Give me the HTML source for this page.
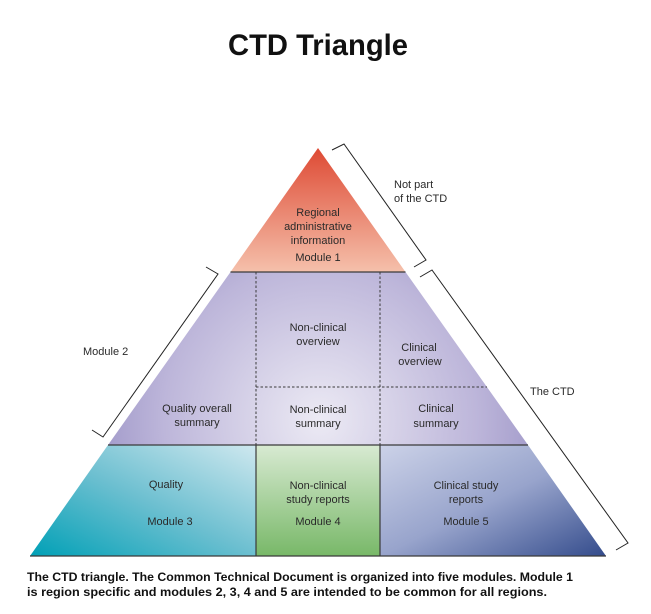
<!DOCTYPE html>
<html><head><meta charset="utf-8"><style>
html,body{margin:0;padding:0;background:#fff;}
svg{display:block}
text{font-family:"Liberation Sans",sans-serif;fill:#2a2a2a;font-size:11px}
</style></head><body>
<svg width="651" height="614" viewBox="0 0 651 614" xmlns="http://www.w3.org/2000/svg">
<defs>
<linearGradient id="red" x1="0" y1="0" x2="0" y2="1">
<stop offset="0" stop-color="#de4a34"/><stop offset="1" stop-color="#f5c0ab"/></linearGradient>
<radialGradient id="pur" cx="320" cy="420" r="260" gradientUnits="userSpaceOnUse">
<stop offset="0" stop-color="#eceaf4"/><stop offset="0.6" stop-color="#bdb6da"/><stop offset="1" stop-color="#9189c0"/></radialGradient>
<linearGradient id="teal" x1="0" y1="1" x2="1" y2="0">
<stop offset="0" stop-color="#00a0b6"/><stop offset="0.5" stop-color="#6cbfd0"/><stop offset="1" stop-color="#cfe8ef"/></linearGradient>
<linearGradient id="grn" x1="0" y1="0" x2="0" y2="1">
<stop offset="0" stop-color="#d8ead2"/><stop offset="1" stop-color="#78b868"/></linearGradient>
<linearGradient id="blu" x1="0" y1="0" x2="1" y2="1">
<stop offset="0" stop-color="#ccd2e8"/><stop offset="0.5" stop-color="#98a4cc"/><stop offset="1" stop-color="#344c8c"/></linearGradient>
</defs>
<text x="318" y="55" text-anchor="middle" style="font-size:30px;font-weight:bold;fill:#111" textLength="180" lengthAdjust="spacingAndGlyphs">CTD Triangle</text>
<polygon points="318,148 405.5,272 230.5,272" fill="url(#red)"/>
<polygon points="230.5,272 405.5,272 528,445 108,445" fill="url(#pur)"/>
<polygon points="108,445 256,445 256,556 30,556" fill="url(#teal)"/>
<rect x="256" y="445" width="124" height="111" fill="url(#grn)"/>
<polygon points="380,445 528,445 606,556 380,556" fill="url(#blu)"/>
<g stroke="#3a3a3a" stroke-width="1.2" fill="none">
<line x1="230.5" y1="272" x2="405.5" y2="272"/>
<line x1="108" y1="445" x2="528" y2="445"/>
<line x1="256" y1="445" x2="256" y2="556"/>
<line x1="380" y1="445" x2="380" y2="556"/>
<line x1="30" y1="556" x2="606" y2="556"/>
<g stroke-dasharray="2.5,2" stroke-width="1">
<line x1="256" y1="272" x2="256" y2="445"/>
<line x1="380" y1="272" x2="380" y2="445"/>
<line x1="256" y1="387" x2="487" y2="387"/>
</g>
</g>
<g stroke="#222" stroke-width="1" fill="none">
<polyline points="332,150 344,144 426,260 414,267"/>
<polyline points="206,267 218,274 103,437 92,430"/>
<polyline points="420,277 432,270 628,543 616,550"/>
</g>
<g text-anchor="middle">
<text x="318" y="216">Regional</text>
<text x="318" y="230">administrative</text>
<text x="318" y="244">information</text>
<text x="318" y="261">Module 1</text>
<text x="318" y="331">Non-clinical</text>
<text x="318" y="345">overview</text>
<text x="419" y="351">Clinical</text>
<text x="420" y="365">overview</text>
<text x="197" y="412">Quality overall</text>
<text x="197" y="426">summary</text>
<text x="318" y="413">Non-clinical</text>
<text x="318" y="427">summary</text>
<text x="436" y="412">Clinical</text>
<text x="436" y="427">summary</text>
<text x="166" y="488">Quality</text>
<text x="170" y="525">Module 3</text>
<text x="318" y="489">Non-clinical</text>
<text x="318" y="503">study reports</text>
<text x="318" y="525">Module 4</text>
<text x="466" y="489">Clinical study</text>
<text x="466" y="503">reports</text>
<text x="466" y="525">Module 5</text>
</g>
<text x="394" y="188">Not part</text>
<text x="394" y="202">of the CTD</text>
<text x="83" y="355">Module 2</text>
<text x="530" y="395">The CTD</text>
<text x="27" y="581" style="font-weight:bold;font-size:11.5px;fill:#111" textLength="546" lengthAdjust="spacingAndGlyphs">The CTD triangle. The Common Technical Document is organized into five modules. Module 1</text>
<text x="27" y="596" style="font-weight:bold;font-size:11.5px;fill:#111" textLength="520" lengthAdjust="spacingAndGlyphs">is region specific and modules 2, 3, 4 and 5 are intended to be common for all regions.</text>
</svg>
</body></html>
